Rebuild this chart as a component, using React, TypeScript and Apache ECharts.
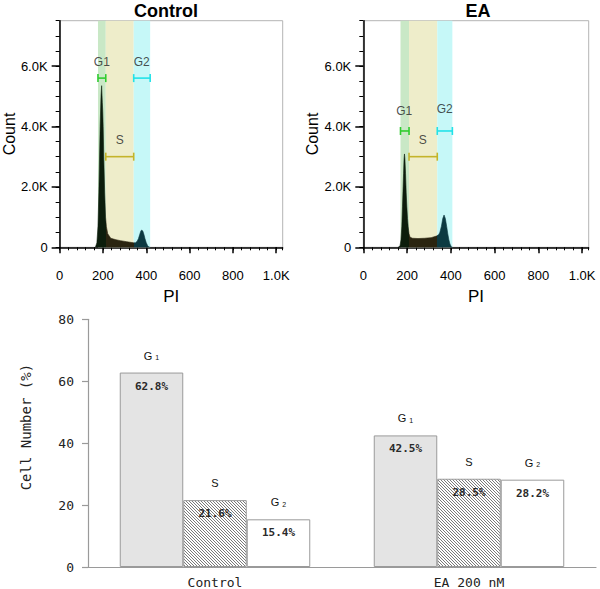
import React, { useEffect, useRef } from 'react';
import * as echarts from 'echarts';

// ---------- Top: DNA histograms (PI channel vs count) ----------
const controlPI = [165, 172, 177, 181, 187, 191, 194, 197, 199, 201, 204, 208, 212, 216, 222, 236, 260, 281, 310, 341, 350, 358, 364, 370, 375, 379, 384, 389, 394, 400, 406, 412, 418];
const controlCount = [0, 150, 700, 1800, 4000, 5000, 5350, 4800, 4500, 4000, 2900, 1800, 1000, 680, 450, 300, 250, 220, 185, 150, 150, 200, 290, 430, 540, 573, 540, 430, 290, 150, 60, 10, 0];

const eaPI = [160, 168, 172, 176, 179, 182, 184, 186, 188, 190, 193, 196, 199, 202, 205, 209, 214, 225, 250, 280, 310, 334, 345, 350, 357, 363, 369, 375, 381, 386, 391, 396, 402, 408];
const eaCount = [0, 60, 240, 700, 1340, 2000, 2450, 2900, 3090, 2950, 2450, 1800, 1340, 950, 680, 450, 330, 300, 290, 300, 320, 370, 420, 500, 700, 950, 1070, 950, 690, 450, 250, 110, 20, 0];

const gateNames = ['G1', 'S', 'G2'];
const controlGateLo = [177, 213, 342];
const controlGateHi = [213, 342, 418];
const controlBracketY = [5600, 3000, 5600];
const controlLabelX = [195, 278, 379];
const controlLabelY = [6120, 3550, 6120];

const eaGateLo = [170, 209, 338];
const eaGateHi = [209, 338, 407];
const eaBracketY = [3850, 3000, 3850];
const eaLabelX = [187, 272, 372];
const eaLabelY = [4510, 3550, 4580];

const piTicks = [0, 200, 400, 600, 800, 1000];
const countTicks = [0, 2000, 4000, 6000];

// ---------- Bottom: cell-cycle distribution ----------
const groups = ['Control', 'EA 200 nM'];
const g1Pct = [62.8, 42.5];
const sPct = [21.6, 28.5];
const g2Pct = [15.4, 28.2];

const SANS = '"Liberation Sans", Arial, Helvetica, sans-serif';
const MONO = '"DejaVu Sans Mono", monospace';

const bandColors = ['#c9e8c6', '#eeedca', '#c6f8f8'];
const bracketColors = ['#2fcc2f', '#c4b42a', '#22e2e8'];
const fillColors = ['#0c1d0c', '#2a2410', '#0c3a42'];

export default function App() {
  const ref = useRef<HTMLDivElement>(null);
  useEffect(() => {
    if (!ref.current) return;
    const chart = echarts.init(ref.current, undefined, { renderer: 'svg' });

    const hatch = document.createElement('canvas');
    hatch.width = 3;
    hatch.height = 3;
    const ctx = hatch.getContext('2d')!;
    ctx.fillStyle = '#ffffff';
    ctx.fillRect(0, 0, 3, 3);
    ctx.fillStyle = '#7a7a7a';
    for (let i = 0; i < 3; i++) ctx.fillRect(i, i, 1, 1);

    const panels = [
      { grid: { left: 54.7, top: 20.7, width: 228, height: 226.6 }, pi: controlPI, count: controlCount, lo: controlGateLo, hi: controlGateHi, by: controlBracketY, lx: controlLabelX, ly: controlLabelY },
      { grid: { left: 363.3, top: 20.7, width: 225.4, height: 226.6 }, pi: eaPI, count: eaCount, lo: eaGateLo, hi: eaGateHi, by: eaBracketY, lx: eaLabelX, ly: eaLabelY },
    ];

    const grids: any[] = [];
    const xAxes: any[] = [];
    const yAxes: any[] = [];
    const series: any[] = [];
    const visualMaps: any[] = [];

    const xFmt = (v: number) => (piTicks.indexOf(v) < 0 ? '' : v === 0 ? '0' : v >= 1000 ? (v / 1000).toFixed(1) + 'K' : String(v));
    const yFmt = (v: number) => (countTicks.indexOf(v) < 0 ? '' : v === 0 ? '0' : (v / 1000).toFixed(1) + 'K');
    const blackLine = { color: '#000', width: 1.5 };

    panels.forEach((p, i) => {
      grids.push({ ...p.grid, show: true, borderColor: '#b4b4b4', borderWidth: 1, backgroundColor: 'transparent' });
      xAxes.push({
        type: 'value', gridIndex: i, min: 0, max: 1030, interval: 200, position: 'bottom',
        axisLine: { show: true, onZero: false, lineStyle: blackLine },
        axisTick: { show: true, length: 6, lineStyle: blackLine },
        axisLabel: { formatter: xFmt, margin: 22, color: '#000', fontSize: 13, fontFamily: SANS, showMaxLabel: false },
        splitLine: { show: false },
        name: 'PI', nameLocation: 'middle', nameGap: 41,
        nameTextStyle: { fontSize: 17, color: '#000', fontFamily: SANS },
      });
      xAxes.push({
        type: 'value', gridIndex: i, min: 0, max: 1030, interval: 40, position: 'bottom',
        axisLine: { show: false },
        axisTick: { show: true, length: 3, lineStyle: { color: '#000', width: 1 } },
        axisLabel: { show: false }, splitLine: { show: false },
      });
      yAxes.push({
        type: 'value', gridIndex: i, min: 0, max: 7500, interval: 2000, position: 'left',
        axisLine: { show: true, onZero: false, lineStyle: blackLine },
        axisTick: { show: true, length: 8, lineStyle: blackLine },
        axisLabel: { formatter: yFmt, margin: 12, color: '#000', fontSize: 13, fontFamily: SANS, showMaxLabel: false },
        splitLine: { show: false },
        name: 'Count', nameLocation: 'middle', nameGap: 40,
        nameTextStyle: { fontSize: 16, color: '#000', fontFamily: SANS },
      });
      yAxes.push({
        type: 'value', gridIndex: i, min: 0, max: 7500, interval: 500, position: 'left',
        axisLine: { show: false },
        axisTick: { show: true, length: 4, lineStyle: { color: '#000', width: 1 } },
        axisLabel: { show: false }, splitLine: { show: false },
      });

      const histIndex = series.length;
      series.push({
        type: 'line', xAxisIndex: 2 * i, yAxisIndex: 2 * i,
        data: p.pi.map((x, k) => [x, p.count[k]]),
        symbol: 'none', lineStyle: { width: 0.6 }, areaStyle: { opacity: 1 }, z: 3,
        markArea: {
          silent: true,
          data: gateNames.map((_, k) => [
            { xAxis: p.lo[k], itemStyle: { color: bandColors[k] } },
            { xAxis: p.hi[k] },
          ]),
        },
      });
      visualMaps.push({
        type: 'piecewise', show: false, seriesIndex: histIndex, dimension: 0,
        pieces: [
          { lt: p.hi[0], color: fillColors[0] },
          { gte: p.hi[0], lt: p.hi[1], color: fillColors[1] },
          { gte: p.hi[1], color: fillColors[2] },
        ],
      });
      gateNames.forEach((_, k) => {
        series.push({
          type: 'line', xAxisIndex: 2 * i, yAxisIndex: 2 * i,
          data: [[p.lo[k], p.by[k]], [p.hi[k], p.by[k]]],
          symbol: 'rect', symbolSize: [1.6, 8], showSymbol: true,
          lineStyle: { color: bracketColors[k], width: 1.6 },
          itemStyle: { color: bracketColors[k] }, z: 4,
        });
      });
      series.push({
        type: 'scatter', xAxisIndex: 2 * i, yAxisIndex: 2 * i,
        data: gateNames.map((n, k) => ({ name: n, value: [p.lx[k], p.ly[k]] })),
        symbolSize: 0, z: 5,
        label: { show: true, position: 'inside', formatter: '{b}', fontSize: 12, color: '#222', fontFamily: SANS },
      });
    });

    // Bottom bar chart
    grids.push({ left: 88, top: 319.3, width: 508, height: 248.4 });
    const grayLine = { color: '#9a9a9a', width: 1.2 };
    xAxes.push({
      type: 'category', gridIndex: 2, data: groups,
      axisLine: { show: true, lineStyle: grayLine }, axisTick: { show: false },
      axisLabel: { color: '#222', fontSize: 13, fontFamily: MONO, margin: 9 },
    });
    yAxes.push({
      type: 'value', gridIndex: 2, min: 0, max: 80, interval: 20,
      axisLine: { show: true, lineStyle: grayLine },
      axisTick: { show: true, length: 6, lineStyle: grayLine },
      axisLabel: { color: '#222', fontSize: 13, fontFamily: MONO, margin: 14 },
      splitLine: { show: false },
      name: 'Cell Number (%)', nameLocation: 'middle', nameGap: 55,
      nameTextStyle: { fontSize: 14, color: '#222', fontFamily: MONO, padding: [0, 0, 0, 32] },
    });

    const rich = {
      g: { fontSize: 11, fontFamily: SANS, color: '#111', lineHeight: 31, verticalAlign: 'bottom' },
      sub: { fontSize: 7, fontFamily: SANS, color: '#111', lineHeight: 31, verticalAlign: 'bottom', padding: [0, 0, 0, 3] },
      p: { fontSize: 11, fontFamily: MONO, fontWeight: 'bold', color: '#2a2a2a', lineHeight: 50 },
    };
    const phaseBars = [
      { head: '{g|G}{sub|1}', values: g1Pct, color: '#e4e4e4' },
      { head: '{g|S}', values: sPct, color: { image: hatch, repeat: 'repeat' } },
      { head: '{g|G}{sub|2}', values: g2Pct, color: '#ffffff' },
    ];
    phaseBars.forEach((b, k) => {
      series.push({
        type: 'bar', name: gateNames[k], xAxisIndex: 4, yAxisIndex: 4,
        data: b.values, barWidth: 63.5, barGap: '0%',
        itemStyle: { color: b.color, borderColor: '#9a9a9a', borderWidth: 1 },
        label: {
          show: true, position: 'insideTop', distance: 0, offset: [0, -42.5],
          formatter: (prm: any) => `${b.head}\n{p|${Number(prm.value).toFixed(1)}%}`,
          rich,
        },
      });
    });

    const option: any = {
      animation: false,
      backgroundColor: '#ffffff',
      grid: grids,
      xAxis: xAxes,
      yAxis: yAxes,
      visualMap: visualMaps,
      series,
      graphic: [
        { type: 'text', x: 166, y: 11, style: { text: 'Control', align: 'center', verticalAlign: 'middle', fontSize: 18, fontWeight: 'bold', fontFamily: SANS, fill: '#000' } },
        { type: 'text', x: 478, y: 11, style: { text: 'EA', align: 'center', verticalAlign: 'middle', fontSize: 18, fontWeight: 'bold', fontFamily: SANS, fill: '#000' } },
      ],
    };
    chart.setOption(option);
    return () => chart.dispose();
  }, []);
  return <div ref={ref} style={{ position: 'fixed', left: 0, top: 0, width: 600, height: 589 }} />;
}
